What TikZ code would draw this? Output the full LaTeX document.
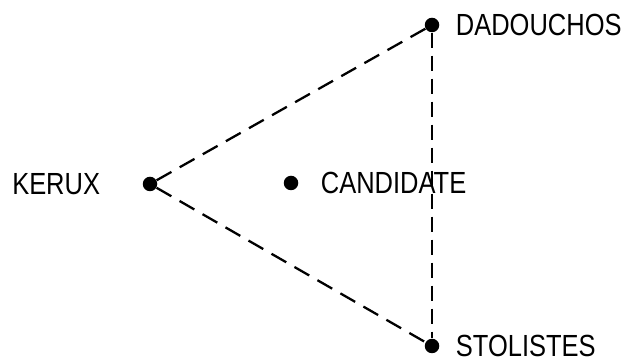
\documentclass[tikz,border=0pt]{standalone}
\usepackage{fontspec}
\setmainfont{Liberation Sans}
\usepackage{tikz}
\usetikzlibrary{positioning}

\begin{document}
\begin{tikzpicture}[
  officer/.style = {circle, fill=black, inner sep=0pt, minimum size=2.9mm},
  title/.style   = {inner sep=0pt, font=\fontsize{14.5}{16}\selectfont,
                    yscale=1.2, transform shape},
  e/.style       = {draw=black, line width=1.3pt, dash pattern=on 3.4mm off 1.9mm},
  ev/.style      = {e, dash pattern=on 3mm off 1.6mm}]
\useasboundingbox (0,0) rectangle (12.5,7.28);

% --- stations ---------------------------------------------------------
\node[officer] (K) at (3.0,3.6)   {};
\node[officer] (C) at (5.82,3.62) {};
\node[officer] (D) at (8.64,6.78) {};
\node[officer] (S) at (8.64,0.36) {};

% --- titles -----------------------------------------------------------
\node[title, left=0.84cm of K]  (kname) {KERUX};
\node[title, right=0.44cm of C] (cname) {CANDIDATE};
\node[title, right=0.32cm of D] (dname) {DADOUCHOS};
\node[title, right=0.32cm of S] (sname) {STOLISTES};

% --- lines ------------------------------------------------------------
\draw[e] (K)--(D);   \draw[e] (K)--(S);   \draw[ev] (D)--(S);
\end{tikzpicture}
\end{document}
